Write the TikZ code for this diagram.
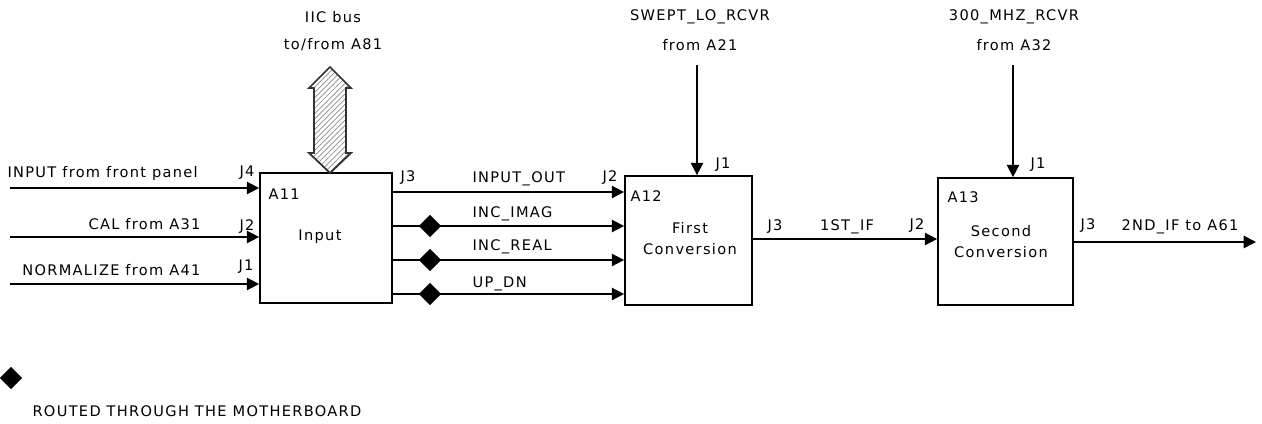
\documentclass[tikz,border=0pt]{standalone}
\usepackage{fontspec}
\setmainfont{DejaVu Sans}[LetterSpace=9]
\usepackage{tikz}
\usetikzlibrary{arrows.meta,positioning,calc,shapes.geometric,patterns}

\begin{document}
\begin{tikzpicture}[x=0.02cm, y=-0.02cm, >={Triangle[length=7pt,width=7pt]}, font=\fontsize{8.3}{10}\selectfont, line width=0.9pt]
  \tikzstyle{unit}=[draw, line width=1pt, inner sep=0pt]
  \tikzstyle{lbl}=[inner sep=1pt]
  \tikzstyle{mb}=[diamond, fill=black, inner sep=0pt, minimum size=0.46cm]
  \useasboundingbox (0,0) rectangle (1262,423);

  \node[unit, minimum width=2.64cm, minimum height=2.6cm] (a11) at (326,238) {};
  \node[unit, minimum width=2.54cm, minimum height=2.58cm] (a12) at (688.5,240.5) {};
  \node[unit, minimum width=2.7cm, minimum height=2.54cm] (a13) at (1005.5,241.5) {};

  \node[lbl, anchor=west] at (266,194) {A11};
  \node[lbl] at (320,237) {Input};
  \node[lbl, anchor=west] at (628,196) {A12};
  \node[lbl, align=center] at (690,239) {First\\[2pt]Conversion};
  \node[lbl, anchor=west] at (945,197) {A13};
  \node[lbl, align=center] at (1001,242) {Second\\[2pt]Conversion};

  % inputs to A11
  \coordinate (in1) at (10,188);
  \coordinate (in2) at (10,237);
  \coordinate (in3) at (10,284);
  \draw[->] (in1) -- (in1 -| a11.west);
  \draw[->] (in2) -- (in2 -| a11.west);
  \draw[->] (in3) -- (in3 -| a11.west);
  \node[lbl, anchor=west] at (5,173) {INPUT from front panel};
  \node[lbl, anchor=east] at (203,224) {CAL from A31};
  \node[lbl, anchor=east] at (203,270) {NORMALIZE from A41};
  \node[lbl] at (247,173) {J4};
  \node[lbl] at (247,227) {J2};
  \node[lbl] at (246,267) {J1};

  % IIC bus
  \draw[pattern=north east lines, pattern color=black!45, draw=black!80, line width=1pt]
    (330,67) -- (351,88) -- (346,88) -- (346,153) -- (351,153) -- (330,173)
    -- (309,153) -- (314,153) -- (314,88) -- (309,88) -- cycle;
  \node[lbl] at (333,17) {IIC bus};
  \node[lbl] at (333,45) {to/from A81};

  % A11 to A12
  \coordinate (o1) at (430,192);
  \node[mb] (d1) at (430,226) {};
  \node[mb] (d2) at (430,260) {};
  \node[mb] (d3) at (430,294) {};
  \draw[->] (o1 -| a11.east) -- (o1 -| a12.west);
  \draw[->] (d1 -| a11.east) -- (d1 -| a12.west);
  \draw[->] (d2 -| a11.east) -- (d2 -| a12.west);
  \draw[->] (d3 -| a11.east) -- (d3 -| a12.west);
  \node[lbl] at (408,178) {J3};
  \node[lbl, anchor=west] at (470,179) {INPUT\_OUT};
  \node[lbl, anchor=west] at (470,214) {INC\_IMAG};
  \node[lbl, anchor=west] at (470,247) {INC\_REAL};
  \node[lbl, anchor=west] at (470,284) {UP\_DN};
  \node[lbl] at (610,178) {J2};

  \coordinate (lo) at (697,65);
  \draw[->] (lo) -- (lo |- a12.north);
  \node[lbl] at (700,17) {SWEPT\_LO\_RCVR};
  \node[lbl] at (700,45) {from A21};
  \node[lbl] at (723,165) {J1};

  % A12 to A13
  \coordinate (if1) at (760,239);
  \draw[->] (if1 -| a12.east) -- (if1 -| a13.west);
  \node[lbl] at (775,227) {J3};
  \node[lbl] at (847,227) {1ST\_IF};
  \node[lbl] at (917,226) {J2};

  \coordinate (ref) at (1013,65);
  \draw[->] (ref) -- (ref |- a13.north);
  \node[lbl] at (1014,17) {300\_MHZ\_RCVR};
  \node[lbl] at (1014,45) {from A32};
  \node[lbl] at (1038,165) {J1};

  \coordinate (out) at (1256,242);
  \draw[->] (out -| a13.east) -- (out);
  \node[lbl] at (1088,226) {J3};
  \node[lbl] at (1180,227) {2ND\_IF to A61};

  \node[mb] (key) at (11,378) {};
  \node[lbl, anchor=west] at (30,411) {ROUTED THROUGH THE MOTHERBOARD};
\end{tikzpicture}
\end{document}
